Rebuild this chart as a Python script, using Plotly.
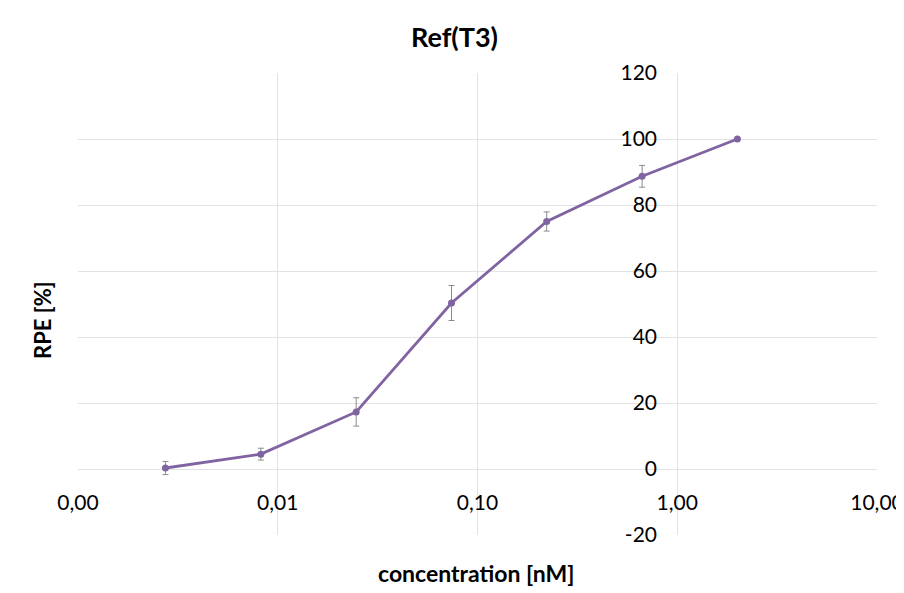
import plotly.graph_objects as go

concentration = [0.00274, 0.00823, 0.0247, 0.0741, 0.222, 0.667, 2.0]
rpe = [0.3, 4.5, 17.3, 50.3, 75.0, 88.7, 100.0]
rpe_err = [2.0, 1.8, 4.3, 5.3, 2.9, 3.3, 0.0]

x_tickvals = [0.001, 0.01, 0.1, 1, 10]
x_ticktext = ["0,00", "0,01", "0,10", "1,00", "10,00"]
y_tickvals = [-20, 0, 20, 40, 60, 80, 100, 120]
y_ticktext = ["-20", "0", "20", "40", "60", "80", "100", "120"]

FONT = "Lato"
purple = "#8064a2"

# the page body has an 8px margin: work in window pixels and shift
OFF = 8
WIN_W, WIN_H = 904, 593
PL, PR, PT, PB = 78, 877, 73, 535  # plot area in window pixels
W, H = WIN_W - OFF, WIN_H - OFF
L, T = PL - OFF, PT - OFF
R, B = WIN_W - PR, WIN_H - PB
PW, PH = PR - PL, PB - PT


def px(x):
    return (x - PL) / PW


def py(y):
    return (PB - y) / PH


fig = go.Figure()
fig.add_trace(go.Scatter(
    x=concentration, y=rpe, mode="lines+markers",
    line=dict(color=purple, width=2.8),
    marker=dict(color=purple, size=7),
    error_y=dict(type="data", array=rpe_err, color="#8c8c8c", thickness=1, width=3),
    showlegend=False,
))

fig.update_layout(
    width=W, height=H,
    margin=dict(l=L, r=R, t=T, b=B, autoexpand=False),
    paper_bgcolor="white", plot_bgcolor="white",
    font=dict(family=FONT, size=21, color="#000000"),
    annotations=[
        dict(text="<b>Ref(T3)</b>", xref="paper", yref="paper",
             x=px(454), y=py(37), xanchor="center", yanchor="middle",
             showarrow=False, font=dict(size=27, family=FONT)),
        dict(text="<b>concentration [nM]</b>", xref="paper", yref="paper",
             x=px(476), y=py(573), xanchor="center", yanchor="middle",
             showarrow=False, font=dict(size=23, family=FONT)),
        dict(text="<b>RPE [%]</b>", xref="paper", yref="paper",
             x=px(42), y=py(320), xanchor="center", yanchor="middle",
             textangle=-90, showarrow=False, font=dict(size=22, family=FONT)),
    ],
    xaxis=dict(
        type="log", range=[-3, 1],
        tickvals=x_tickvals, ticktext=x_ticktext,
        showgrid=True, gridcolor="#e3e3e3", gridwidth=1,
        zeroline=False, showline=False, ticks="",
        anchor="free", position=py(468), automargin=False,
        tickfont=dict(size=21, family=FONT),
        ticklabelstandoff=20,
    ),
    yaxis=dict(
        range=[-20, 120], tickvals=y_tickvals, ticktext=y_ticktext,
        showgrid=True, gridcolor="#e3e3e3", gridwidth=1,
        zeroline=False, showline=False, ticks="",
        anchor="free", position=px(677), automargin=False,
        side="left",
        tickfont=dict(size=21, family=FONT),
        ticklabelstandoff=20,
    ),
)

fig.write_html("out.html")
